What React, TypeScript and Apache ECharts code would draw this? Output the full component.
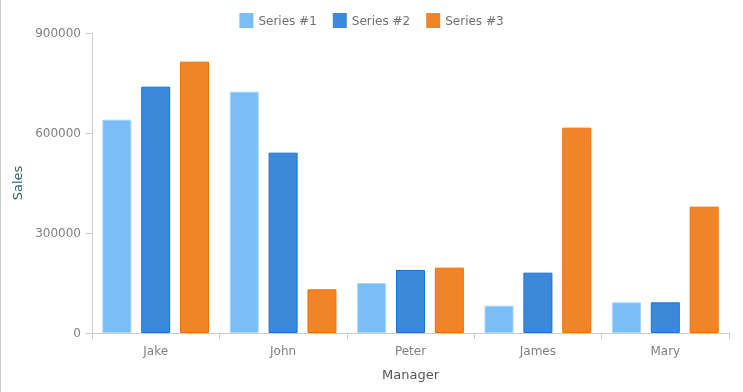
import React, { useEffect, useRef } from "react";
import * as echarts from "echarts";

const categories = ["Jake", "John", "Peter", "James", "Mary"];
const seriesNames = ["Series #1", "Series #2", "Series #3"];
const series1 = [640000, 724000, 150000, 82000, 92000];
const series2 = [739000, 541000, 189000, 181000, 92000];
const series3 = [814000, 131000, 196000, 616000, 379000];
const fills = ["#7abef7", "#3a8ad9", "#f18426"];
const borders = ["#a9d6fb", "#1a6fd3", "#f07000"];

export default function App() {
  const ref = useRef<HTMLDivElement>(null);
  useEffect(() => {
    if (!ref.current) return;
    const chart = echarts.init(ref.current, undefined, { renderer: "svg" });
    const font = "'DejaVu Sans', Verdana, sans-serif";
    const data = [series1, series2, series3];
    chart.setOption({
      animation: false,
      textStyle: { fontFamily: font },
      legend: {
        top: 8,
        left: "center",
        itemWidth: 14,
        itemHeight: 15,
        itemGap: 16,
        icon: "rect",
        itemStyle: { borderWidth: 0 },
        textStyle: { color: "#707070", fontSize: 12, fontFamily: font },
        data: seriesNames,
      },
      grid: { left: 92, right: 14, top: 33, bottom: 59 },
      xAxis: {
        type: "category",
        data: categories,
        name: "Manager",
        nameLocation: "middle",
        nameGap: 35,
        nameTextStyle: { color: "#555", fontSize: 13, fontFamily: font },
        axisLine: { lineStyle: { color: "#cccccc" } },
        axisTick: { show: true, length: 6, lineStyle: { color: "#cccccc" } },
        axisLabel: { color: "#808080", fontSize: 12, margin: 12, fontFamily: font },
        splitLine: { show: false },
      },
      yAxis: {
        type: "value",
        min: 0,
        max: 900000,
        interval: 300000,
        name: "Sales",
        nameLocation: "middle",
        nameGap: 64,
        nameTextStyle: { color: "#2e6070", fontSize: 13, fontFamily: font },
        axisLine: { show: true, lineStyle: { color: "#cccccc" } },
        axisTick: { show: true, length: 6, lineStyle: { color: "#cccccc" } },
        axisLabel: {
          color: "#808080",
          fontSize: 12,
          margin: 11,
          fontFamily: font,
          formatter: (v: number) => String(v),
        },
        splitLine: { show: false },
      },
      graphic: [
        {
          type: "line",
          shape: { x1: 0.5, y1: 0, x2: 0.5, y2: 392 },
          style: { stroke: "#c8c8c8", lineWidth: 1 },
        },
      ],
      series: seriesNames.map((name, i) => ({
        name,
        type: "bar",
        data: data[i],
        barWidth: 29,
        barGap: "34%",
        itemStyle: { color: fills[i], borderColor: borders[i], borderWidth: 1 },
      })),
    });
    return () => chart.dispose();
  }, []);
  return (
    <div
      ref={ref}
      style={{ position: "fixed", left: 0, top: 0, width: 743, height: 392 }}
    />
  );
}
